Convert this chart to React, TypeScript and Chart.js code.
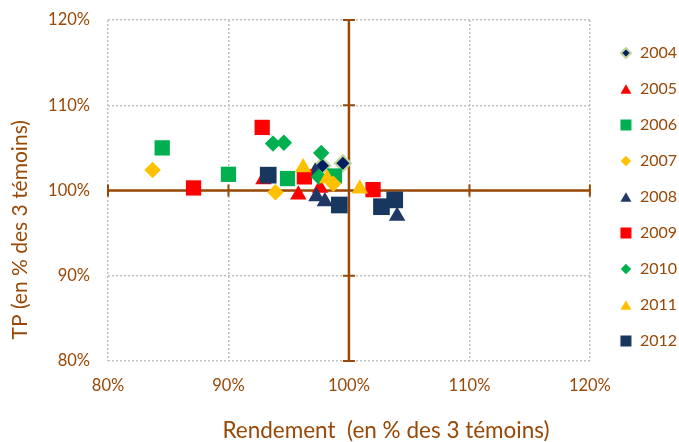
import React, { useEffect, useRef } from 'react';
import { Chart, registerables } from 'chart.js';

Chart.register(...registerables);

// ---- data ----
const years = ['2004', '2005', '2006', '2007', '2008', '2009', '2010', '2011', '2012'];
const rend2004 = [97.8, 99.5];
const tp2004 = [102.9, 103.2];
const rend2005 = [92.9, 95.8, 97.6];
const tp2005 = [101.3, 99.5, 100.3];
const rend2006 = [84.5, 90.0, 94.9, 98.8];
const tp2006 = [105.0, 101.9, 101.4, 101.7];
const rend2007 = [83.7, 93.9, 98.7];
const tp2007 = [102.4, 99.8, 100.8];
const rend2008 = [97.2, 97.3, 98.0, 104.0];
const tp2008 = [102.2, 99.3, 98.7, 97.0];
const rend2009 = [87.1, 92.8, 96.3, 102.0];
const tp2009 = [100.3, 107.4, 101.6, 100.1];
const rend2010 = [93.7, 94.6, 97.7, 97.5];
const tp2010 = [105.5, 105.6, 104.4, 101.6];
const rend2011 = [96.2, 98.2, 100.9];
const tp2011 = [102.7, 101.4, 100.2];
const rend2012 = [93.3, 99.2, 102.7, 103.8];
const tp2012 = [101.8, 98.3, 98.1, 98.9];
const axisMin = 80;
const axisMax = 120;
const axisStep = 10;
const crossValue = 100;
const xTitle = 'Rendement  (en % des 3 témoins)';
const yTitle = 'TP (en % des 3 témoins)';

const rendByYear = [rend2004, rend2005, rend2006, rend2007, rend2008, rend2009, rend2010, rend2011, rend2012];
const tpByYear = [tp2004, tp2005, tp2006, tp2007, tp2008, tp2009, tp2010, tp2011, tp2012];

// ---- styles ----
const BROWN = '#984807';
const FONT = 'Lato';
const styles = [
  { shape: 'rectRot', fill: '#002060', border: '#C4D79B', bw: 2, r: 8, icon: 10 },
  { shape: 'triangle', fill: '#FF0000', border: '#FF0000', bw: 0, r: 9.5, icon: 11 },
  { shape: 'rect', fill: '#00B050', border: '#00B050', bw: 0, r: 10.8, icon: 11 },
  { shape: 'rectRot', fill: '#FFC000', border: '#FFC000', bw: 0, r: 8.2, icon: 10.5 },
  { shape: 'triangle', fill: '#1F3864', border: '#1F3864', bw: 0, r: 9.5, icon: 11 },
  { shape: 'rect', fill: '#FF0000', border: '#FF0000', bw: 0, r: 10.8, icon: 11 },
  { shape: 'rectRot', fill: '#00B050', border: '#00B050', bw: 0, r: 8.2, icon: 10.5 },
  { shape: 'triangle', fill: '#FFC000', border: '#FFC000', bw: 0, r: 9.5, icon: 11 },
  { shape: 'rect', fill: '#17375E', border: '#17375E', bw: 0, r: 11.8, icon: 11 },
];

function makeIcon(shape: string, fill: string, border: string, bw: number, size: number) {
  const c = document.createElement('canvas');
  const dim = 16;
  c.width = dim;
  c.height = dim;
  const g = c.getContext('2d') as CanvasRenderingContext2D;
  const m = dim / 2;
  g.beginPath();
  if (shape === 'rect') {
    g.rect(m - size / 2, m - size / 2, size, size);
  } else if (shape === 'rectRot') {
    g.moveTo(m, m - size / 2);
    g.lineTo(m + size / 2, m);
    g.lineTo(m, m + size / 2);
    g.lineTo(m - size / 2, m);
    g.closePath();
  } else {
    const h = size * 0.87;
    g.moveTo(m, m - h / 2);
    g.lineTo(m + size / 2, m + h / 2);
    g.lineTo(m - size / 2, m + h / 2);
    g.closePath();
  }
  g.fillStyle = fill;
  g.fill();
  if (bw > 0) {
    g.lineWidth = bw;
    g.strokeStyle = border;
    g.stroke();
  }
  return c;
}

const crossAxesPlugin = {
  id: 'crossAxes',
  beforeDatasetsDraw(chart: any) {
    const { ctx, chartArea, scales } = chart;
    const x = scales.x;
    const y = scales.y;
    const px = x.getPixelForValue(crossValue);
    const py = y.getPixelForValue(crossValue);
    ctx.save();
    ctx.strokeStyle = BROWN;
    ctx.lineWidth = 2.5;
    ctx.beginPath();
    ctx.moveTo(chartArea.left, py);
    ctx.lineTo(chartArea.right, py);
    ctx.moveTo(px, chartArea.top);
    ctx.lineTo(px, chartArea.bottom);
    ctx.stroke();
    ctx.lineWidth = 2;
    ctx.beginPath();
    x.ticks.forEach((t: any) => {
      if (t.value === crossValue) return;
      const p = x.getPixelForValue(t.value);
      ctx.moveTo(p, py - 6);
      ctx.lineTo(p, py + 6);
    });
    y.ticks.forEach((t: any) => {
      if (t.value === crossValue) return;
      const p = y.getPixelForValue(t.value);
      ctx.moveTo(px - 6, p);
      ctx.lineTo(px + 6, p);
    });
    ctx.stroke();
    ctx.restore();
  },
};

const zeroPad = (s: any) => {
  s.paddingTop = 0;
  s.paddingBottom = 0;
  s.paddingLeft = 0;
  s.paddingRight = 0;
};

export default function App() {
  const ref = useRef<HTMLCanvasElement | null>(null);

  useEffect(() => {
    if (!ref.current) return;
    const icons = styles.map((s) => makeIcon(s.shape, s.fill, s.border, s.bw, s.icon));
    const datasets = years.map((yr, i) => ({
      label: yr,
      data: rendByYear[i].map((v, k) => ({ x: v, y: tpByYear[i][k] })),
      pointStyle: styles[i].shape,
      pointRadius: styles[i].r,
      pointHoverRadius: styles[i].r,
      backgroundColor: styles[i].fill,
      borderColor: styles[i].border,
      pointBorderWidth: styles[i].bw,
      order: years.length - i,
    }));

    const tickFont = { family: FONT, size: 16.5 };
    const chart = new Chart(ref.current, {
      type: 'scatter',
      data: { datasets },
      plugins: [crossAxesPlugin],
      options: {
        animation: false,
        responsive: true,
        maintainAspectRatio: false,
        layout: { autoPadding: false, padding: { top: 20, right: -8, bottom: 0, left: 0 } },
        plugins: {
          tooltip: { enabled: false },
          legend: {
            position: 'right',
            align: 'start',
            title: { display: true, text: '', font: { size: 5, lineHeight: 1 }, padding: 0 },
            labels: {
              usePointStyle: true,
              boxWidth: 12,
              boxHeight: 12,
              padding: 20,
              color: BROWN,
              font: { family: FONT, size: 16 },
              sort: (a: any, b: any) => a.datasetIndex - b.datasetIndex,
              generateLabels: (c: any) => {
                const items = (Chart.defaults.plugins.legend.labels as any).generateLabels(c);
                return items.map((it: any) => ({ ...it, pointStyle: icons[it.datasetIndex], rotation: 0 }));
              },
            },
          },
        },
        scales: {
          x: {
            type: 'linear',
            min: axisMin,
            max: axisMax,
            afterFit: (s: any) => {
              s.height = 81;
              zeroPad(s);
            },
            ticks: {
              stepSize: axisStep,
              color: BROWN,
              font: tickFont,
              padding: 15,
              callback: (v: any) => v + '%',
            },
            grid: { color: '#BFBFBF', lineWidth: 1.5, drawTicks: false },
            border: { display: false, dash: [2, 2] },
            title: {
              display: true,
              text: xTitle + '       ',
              align: 'end',
              color: BROWN,
              font: { family: FONT, size: 22.5, lineHeight: 1 },
              padding: { top: 0, bottom: 0 },
            },
          },
          y: {
            type: 'linear',
            min: axisMin,
            max: axisMax,
            afterFit: (s: any) => {
              s.width = 108;
              zeroPad(s);
            },
            ticks: {
              stepSize: axisStep,
              color: BROWN,
              font: tickFont,
              padding: 18,
              callback: (v: any) => v + '%',
            },
            grid: { color: '#BFBFBF', lineWidth: 1.5, drawTicks: false },
            border: { display: false, dash: [2, 2] },
            title: {
              display: true,
              text: '    ' + yTitle,
              align: 'start',
              color: BROWN,
              font: { family: FONT, size: 21, lineHeight: 1 },
              padding: { top: 10, bottom: 0 },
            },
          },
          gap: {
            type: 'linear',
            position: 'right',
            display: true,
            afterFit: (s: any) => {
              s.width = 10;
              zeroPad(s);
            },
            ticks: { display: false },
            grid: { display: false },
            border: { display: false },
          },
        },
      } as any,
    });
    return () => chart.destroy();
  }, []);

  return (
    <div style={{ position: 'absolute', left: 0, top: 0, width: 679, height: 442 }}>
      <canvas ref={ref} />
    </div>
  );
}
